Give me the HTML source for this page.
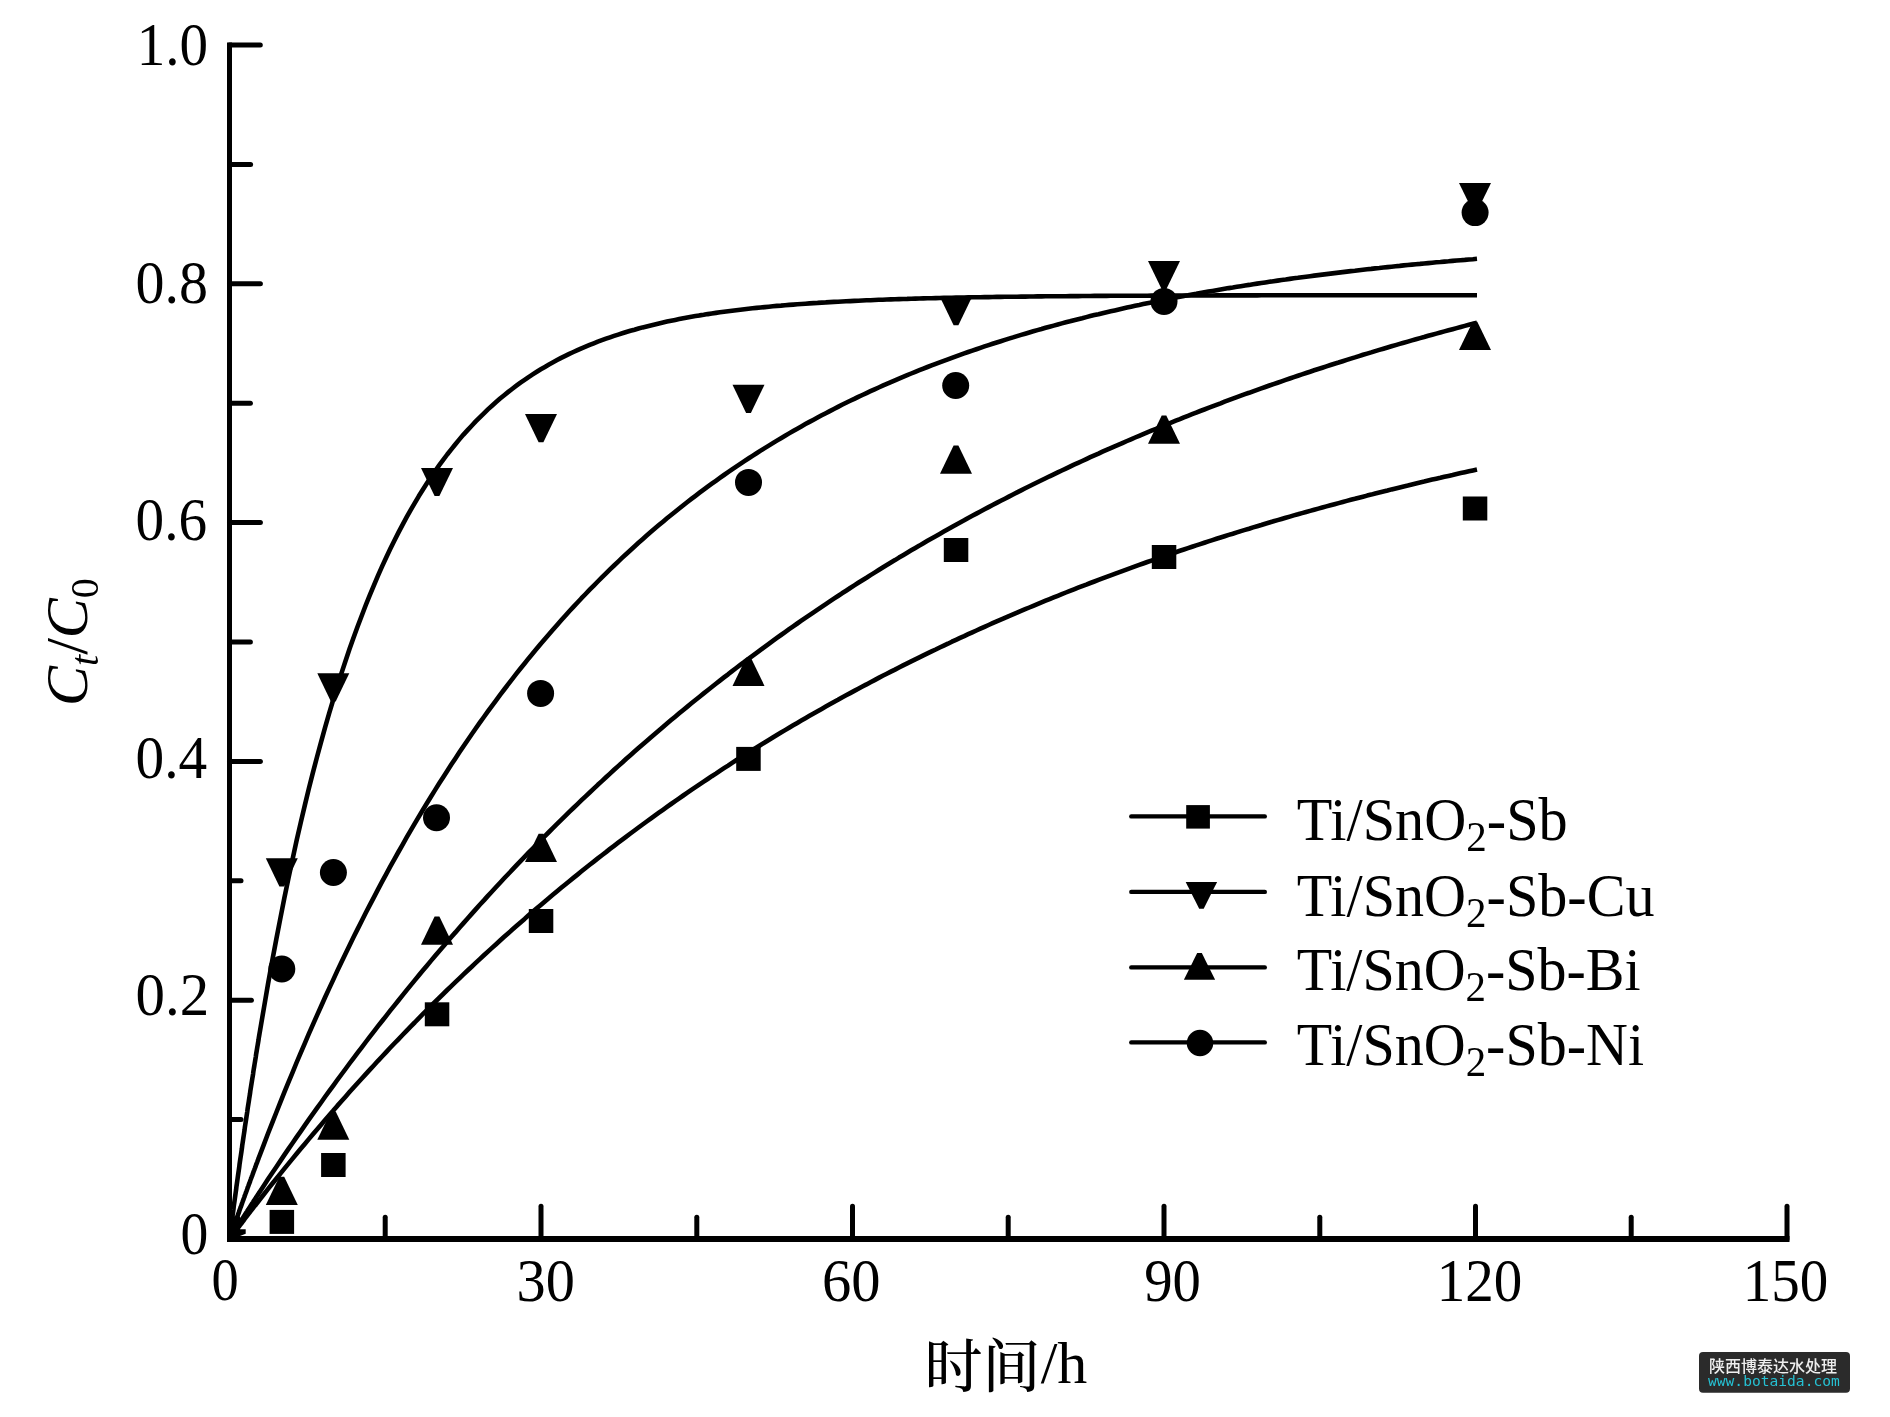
<!DOCTYPE html>
<html><head><meta charset="utf-8"><style>
html,body{margin:0;padding:0;background:#fff;}
body{width:1890px;height:1417px;overflow:hidden;}
svg{display:block;will-change:transform;}
.t{font-family:"Liberation Serif","Times New Roman",serif;fill:#000;}
</style></head><body>
<svg width="1890" height="1417" viewBox="0 0 1890 1417">
<rect width="1890" height="1417" fill="#fff"/>
<g fill="none" stroke="#000" stroke-width="4.6" stroke-linejoin="round">
<path d="M229.5,1239.0 L229.9,1236.0 L230.3,1233.1 L230.7,1230.1 L231.0,1227.2 L231.4,1224.2 L231.8,1221.3 L232.2,1218.4 L232.6,1215.5 L233.0,1212.6 L233.4,1209.7 L233.7,1206.8 L234.1,1203.9 L234.5,1201.1 L234.9,1198.2 L235.3,1195.4 L235.7,1192.5 L236.1,1189.7 L236.4,1186.9 L236.8,1184.1 L237.2,1181.3 L237.6,1178.5 L238.0,1175.7 L238.4,1172.9 L238.8,1170.2 L239.2,1167.4 L239.5,1164.7 L239.9,1161.9 L240.3,1159.2 L240.7,1156.5 L241.1,1153.8 L241.5,1151.1 L241.9,1148.4 L242.2,1145.7 L242.6,1143.0 L243.0,1140.3 L243.4,1137.7 L243.8,1135.0 L244.2,1132.4 L244.6,1129.7 L244.9,1127.1 L245.3,1124.5 L245.7,1121.9 L246.1,1119.3 L246.5,1116.7 L246.9,1114.1 L247.3,1111.5 L247.6,1108.9 L248.0,1106.4 L248.4,1103.8 L248.8,1101.3 L249.2,1098.7 L249.6,1096.2 L250.0,1093.7 L250.3,1091.2 L250.7,1088.7 L251.1,1086.2 L251.5,1083.7 L251.9,1081.2 L252.3,1078.7 L252.7,1076.3 L253.1,1073.8 L253.4,1071.3 L253.8,1068.9 L254.2,1066.5 L254.6,1064.0 L255.0,1061.6 L255.4,1059.2 L255.8,1056.8 L256.1,1054.4 L256.5,1052.0 L256.9,1049.6 L257.3,1047.2 L257.7,1044.9 L258.1,1042.5 L258.5,1040.2 L258.8,1037.8 L259.2,1035.5 L259.6,1033.1 L260.0,1030.8 L264.1,1006.8 L268.1,983.5 L272.2,961.0 L276.3,939.2 L280.4,918.1 L284.4,897.7 L288.5,878.0 L292.6,859.0 L296.6,840.5 L300.7,822.7 L304.8,805.4 L308.8,788.7 L312.9,772.6 L317.0,757.0 L321.1,741.9 L325.1,727.3 L329.2,713.1 L333.3,699.5 L337.3,686.2 L341.4,673.4 L345.5,661.1 L349.5,649.1 L353.6,637.5 L357.7,626.3 L361.8,615.5 L365.8,605.0 L369.9,594.9 L374.0,585.1 L378.0,575.6 L382.1,566.4 L386.2,557.5 L390.2,549.0 L394.3,540.7 L398.4,532.6 L402.5,524.9 L406.5,517.4 L410.6,510.1 L414.7,503.1 L418.7,496.3 L422.8,489.7 L426.9,483.3 L430.9,477.2 L435.0,471.2 L439.1,465.4 L443.2,459.9 L447.2,454.5 L451.3,449.3 L455.4,444.2 L459.4,439.4 L463.5,434.6 L467.6,430.1 L471.7,425.7 L475.7,421.4 L479.8,417.3 L483.9,413.3 L487.9,409.4 L492.0,405.7 L496.1,402.1 L500.1,398.6 L504.2,395.2 L508.3,391.9 L512.4,388.7 L516.4,385.7 L520.5,382.7 L524.6,379.9 L528.6,377.1 L532.7,374.4 L536.8,371.8 L540.8,369.3 L544.9,366.9 L549.0,364.5 L553.1,362.3 L557.1,360.1 L561.2,357.9 L565.3,355.9 L569.3,353.9 L573.4,352.0 L577.5,350.1 L581.5,348.3 L585.6,346.6 L589.7,344.9 L593.8,343.3 L597.8,341.7 L601.9,340.2 L606.0,338.7 L610.0,337.3 L614.1,335.9 L618.2,334.6 L622.3,333.3 L626.3,332.0 L630.4,330.8 L634.5,329.7 L638.5,328.5 L642.6,327.4 L646.7,326.4 L650.7,325.4 L654.8,324.4 L658.9,323.4 L663.0,322.5 L667.0,321.6 L671.1,320.7 L675.2,319.9 L679.2,319.1 L683.3,318.3 L687.4,317.5 L691.4,316.8 L695.5,316.1 L699.6,315.4 L703.7,314.8 L707.7,314.1 L711.8,313.5 L715.9,312.9 L719.9,312.3 L724.0,311.7 L728.1,311.2 L732.1,310.7 L736.2,310.2 L740.3,309.7 L744.4,309.2 L748.4,308.7 L752.5,308.3 L756.6,307.9 L760.6,307.5 L764.7,307.1 L768.8,306.7 L772.8,306.3 L776.9,305.9 L781.0,305.6 L785.1,305.2 L789.1,304.9 L793.2,304.6 L797.3,304.3 L801.3,304.0 L805.4,303.7 L809.5,303.4 L813.6,303.1 L817.6,302.9 L821.7,302.6 L825.8,302.4 L829.8,302.1 L833.9,301.9 L838.0,301.7 L842.0,301.5 L846.1,301.3 L850.2,301.1 L854.3,300.9 L858.3,300.7 L862.4,300.5 L866.5,300.3 L870.5,300.2 L874.6,300.0 L878.7,299.8 L882.7,299.7 L886.8,299.5 L890.9,299.4 L895.0,299.3 L899.0,299.1 L903.1,299.0 L907.2,298.9 L911.2,298.7 L915.3,298.6 L919.4,298.5 L923.4,298.4 L927.5,298.3 L931.6,298.2 L935.7,298.1 L939.7,298.0 L943.8,297.9 L947.9,297.8 L951.9,297.7 L956.0,297.6 L960.1,297.6 L964.2,297.5 L968.2,297.4 L972.3,297.3 L976.4,297.3 L980.4,297.2 L984.5,297.1 L988.6,297.1 L992.6,297.0 L996.7,296.9 L1000.8,296.9 L1004.9,296.8 L1008.9,296.8 L1013.0,296.7 L1017.1,296.7 L1021.1,296.6 L1025.2,296.6 L1029.3,296.5 L1033.3,296.5 L1037.4,296.4 L1041.5,296.4 L1045.6,296.3 L1049.6,296.3 L1053.7,296.3 L1057.8,296.2 L1061.8,296.2 L1065.9,296.2 L1070.0,296.1 L1074.0,296.1 L1078.1,296.1 L1082.2,296.0 L1086.3,296.0 L1090.3,296.0 L1094.4,295.9 L1098.5,295.9 L1102.5,295.9 L1106.6,295.9 L1110.7,295.8 L1114.7,295.8 L1118.8,295.8 L1122.9,295.8 L1127.0,295.8 L1131.0,295.7 L1135.1,295.7 L1139.2,295.7 L1143.2,295.7 L1147.3,295.7 L1151.4,295.6 L1155.5,295.6 L1159.5,295.6 L1163.6,295.6 L1167.7,295.6 L1171.7,295.6 L1175.8,295.6 L1179.9,295.5 L1183.9,295.5 L1188.0,295.5 L1192.1,295.5 L1196.2,295.5 L1200.2,295.5 L1204.3,295.5 L1208.4,295.5 L1212.4,295.5 L1216.5,295.4 L1220.6,295.4 L1224.6,295.4 L1228.7,295.4 L1232.8,295.4 L1236.9,295.4 L1240.9,295.4 L1245.0,295.4 L1249.1,295.4 L1253.1,295.4 L1257.2,295.4 L1261.3,295.3 L1265.3,295.3 L1269.4,295.3 L1273.5,295.3 L1277.6,295.3 L1281.6,295.3 L1285.7,295.3 L1289.8,295.3 L1293.8,295.3 L1297.9,295.3 L1302.0,295.3 L1306.1,295.3 L1310.1,295.3 L1314.2,295.3 L1318.3,295.3 L1322.3,295.3 L1326.4,295.3 L1330.5,295.3 L1334.5,295.3 L1338.6,295.3 L1342.7,295.2 L1346.8,295.2 L1350.8,295.2 L1354.9,295.2 L1359.0,295.2 L1363.0,295.2 L1367.1,295.2 L1371.2,295.2 L1375.2,295.2 L1379.3,295.2 L1383.4,295.2 L1387.5,295.2 L1391.5,295.2 L1395.6,295.2 L1399.7,295.2 L1403.7,295.2 L1407.8,295.2 L1411.9,295.2 L1415.9,295.2 L1420.0,295.2 L1424.1,295.2 L1428.2,295.2 L1432.2,295.2 L1436.3,295.2 L1440.4,295.2 L1444.4,295.2 L1448.5,295.2 L1452.6,295.2 L1456.6,295.2 L1460.7,295.2 L1464.8,295.2 L1468.9,295.2 L1472.9,295.2 L1477.0,295.2"/>
<path d="M229.5,1239.0 L229.9,1237.9 L230.3,1236.8 L230.7,1235.7 L231.0,1234.5 L231.4,1233.4 L231.8,1232.3 L232.2,1231.2 L232.6,1230.1 L233.0,1229.0 L233.4,1227.9 L233.7,1226.8 L234.1,1225.7 L234.5,1224.6 L234.9,1223.5 L235.3,1222.4 L235.7,1221.3 L236.1,1220.2 L236.4,1219.1 L236.8,1218.0 L237.2,1216.9 L237.6,1215.8 L238.0,1214.7 L238.4,1213.7 L238.8,1212.6 L239.2,1211.5 L239.5,1210.4 L239.9,1209.3 L240.3,1208.2 L240.7,1207.2 L241.1,1206.1 L241.5,1205.0 L241.9,1203.9 L242.2,1202.8 L242.6,1201.8 L243.0,1200.7 L243.4,1199.6 L243.8,1198.5 L244.2,1197.5 L244.6,1196.4 L244.9,1195.3 L245.3,1194.3 L245.7,1193.2 L246.1,1192.1 L246.5,1191.1 L246.9,1190.0 L247.3,1189.0 L247.6,1187.9 L248.0,1186.8 L248.4,1185.8 L248.8,1184.7 L249.2,1183.7 L249.6,1182.6 L250.0,1181.6 L250.3,1180.5 L250.7,1179.5 L251.1,1178.4 L251.5,1177.4 L251.9,1176.3 L252.3,1175.3 L252.7,1174.2 L253.1,1173.2 L253.4,1172.1 L253.8,1171.1 L254.2,1170.1 L254.6,1169.0 L255.0,1168.0 L255.4,1166.9 L255.8,1165.9 L256.1,1164.9 L256.5,1163.8 L256.9,1162.8 L257.3,1161.8 L257.7,1160.7 L258.1,1159.7 L258.5,1158.7 L258.8,1157.7 L259.2,1156.6 L259.6,1155.6 L260.0,1154.6 L264.1,1143.9 L268.1,1133.3 L272.2,1122.8 L276.3,1112.5 L280.4,1102.2 L284.4,1092.1 L288.5,1082.1 L292.6,1072.3 L296.6,1062.5 L300.7,1052.8 L304.8,1043.3 L308.8,1033.9 L312.9,1024.6 L317.0,1015.4 L321.1,1006.3 L325.1,997.3 L329.2,988.4 L333.3,979.6 L337.3,970.9 L341.4,962.3 L345.5,953.8 L349.5,945.4 L353.6,937.1 L357.7,928.9 L361.8,920.8 L365.8,912.8 L369.9,904.9 L374.0,897.1 L378.0,889.4 L382.1,881.7 L386.2,874.2 L390.2,866.7 L394.3,859.3 L398.4,852.0 L402.5,844.8 L406.5,837.7 L410.6,830.7 L414.7,823.7 L418.7,816.8 L422.8,810.0 L426.9,803.3 L430.9,796.7 L435.0,790.1 L439.1,783.6 L443.2,777.2 L447.2,770.9 L451.3,764.6 L455.4,758.4 L459.4,752.3 L463.5,746.2 L467.6,740.2 L471.7,734.3 L475.7,728.5 L479.8,722.7 L483.9,717.0 L487.9,711.4 L492.0,705.8 L496.1,700.3 L500.1,694.8 L504.2,689.5 L508.3,684.1 L512.4,678.9 L516.4,673.7 L520.5,668.5 L524.6,663.5 L528.6,658.4 L532.7,653.5 L536.8,648.6 L540.8,643.7 L544.9,638.9 L549.0,634.2 L553.1,629.5 L557.1,624.9 L561.2,620.3 L565.3,615.8 L569.3,611.3 L573.4,606.9 L577.5,602.5 L581.5,598.2 L585.6,594.0 L589.7,589.7 L593.8,585.6 L597.8,581.5 L601.9,577.4 L606.0,573.4 L610.0,569.4 L614.1,565.5 L618.2,561.6 L622.3,557.7 L626.3,554.0 L630.4,550.2 L634.5,546.5 L638.5,542.8 L642.6,539.2 L646.7,535.6 L650.7,532.1 L654.8,528.6 L658.9,525.1 L663.0,521.7 L667.0,518.3 L671.1,515.0 L675.2,511.7 L679.2,508.5 L683.3,505.2 L687.4,502.0 L691.4,498.9 L695.5,495.8 L699.6,492.7 L703.7,489.7 L707.7,486.7 L711.8,483.7 L715.9,480.8 L719.9,477.9 L724.0,475.0 L728.1,472.2 L732.1,469.4 L736.2,466.6 L740.3,463.8 L744.4,461.1 L748.4,458.5 L752.5,455.8 L756.6,453.2 L760.6,450.6 L764.7,448.1 L768.8,445.6 L772.8,443.1 L776.9,440.6 L781.0,438.2 L785.1,435.8 L789.1,433.4 L793.2,431.0 L797.3,428.7 L801.3,426.4 L805.4,424.1 L809.5,421.9 L813.6,419.7 L817.6,417.5 L821.7,415.3 L825.8,413.2 L829.8,411.1 L833.9,409.0 L838.0,406.9 L842.0,404.8 L846.1,402.8 L850.2,400.8 L854.3,398.9 L858.3,396.9 L862.4,395.0 L866.5,393.1 L870.5,391.2 L874.6,389.3 L878.7,387.5 L882.7,385.7 L886.8,383.9 L890.9,382.1 L895.0,380.3 L899.0,378.6 L903.1,376.9 L907.2,375.2 L911.2,373.5 L915.3,371.8 L919.4,370.2 L923.4,368.6 L927.5,367.0 L931.6,365.4 L935.7,363.8 L939.7,362.3 L943.8,360.8 L947.9,359.3 L951.9,357.8 L956.0,356.3 L960.1,354.8 L964.2,353.4 L968.2,352.0 L972.3,350.6 L976.4,349.2 L980.4,347.8 L984.5,346.4 L988.6,345.1 L992.6,343.8 L996.7,342.5 L1000.8,341.2 L1004.9,339.9 L1008.9,338.6 L1013.0,337.4 L1017.1,336.1 L1021.1,334.9 L1025.2,333.7 L1029.3,332.5 L1033.3,331.3 L1037.4,330.1 L1041.5,329.0 L1045.6,327.8 L1049.6,326.7 L1053.7,325.6 L1057.8,324.5 L1061.8,323.4 L1065.9,322.3 L1070.0,321.3 L1074.0,320.2 L1078.1,319.2 L1082.2,318.2 L1086.3,317.1 L1090.3,316.1 L1094.4,315.1 L1098.5,314.2 L1102.5,313.2 L1106.6,312.2 L1110.7,311.3 L1114.7,310.4 L1118.8,309.4 L1122.9,308.5 L1127.0,307.6 L1131.0,306.7 L1135.1,305.8 L1139.2,305.0 L1143.2,304.1 L1147.3,303.2 L1151.4,302.4 L1155.5,301.6 L1159.5,300.8 L1163.6,299.9 L1167.7,299.1 L1171.7,298.3 L1175.8,297.6 L1179.9,296.8 L1183.9,296.0 L1188.0,295.3 L1192.1,294.5 L1196.2,293.8 L1200.2,293.0 L1204.3,292.3 L1208.4,291.6 L1212.4,290.9 L1216.5,290.2 L1220.6,289.5 L1224.6,288.8 L1228.7,288.1 L1232.8,287.5 L1236.9,286.8 L1240.9,286.2 L1245.0,285.5 L1249.1,284.9 L1253.1,284.2 L1257.2,283.6 L1261.3,283.0 L1265.3,282.4 L1269.4,281.8 L1273.5,281.2 L1277.6,280.6 L1281.6,280.0 L1285.7,279.5 L1289.8,278.9 L1293.8,278.3 L1297.9,277.8 L1302.0,277.2 L1306.1,276.7 L1310.1,276.2 L1314.2,275.6 L1318.3,275.1 L1322.3,274.6 L1326.4,274.1 L1330.5,273.6 L1334.5,273.1 L1338.6,272.6 L1342.7,272.1 L1346.8,271.6 L1350.8,271.1 L1354.9,270.7 L1359.0,270.2 L1363.0,269.8 L1367.1,269.3 L1371.2,268.9 L1375.2,268.4 L1379.3,268.0 L1383.4,267.5 L1387.5,267.1 L1391.5,266.7 L1395.6,266.3 L1399.7,265.9 L1403.7,265.4 L1407.8,265.0 L1411.9,264.6 L1415.9,264.2 L1420.0,263.9 L1424.1,263.5 L1428.2,263.1 L1432.2,262.7 L1436.3,262.3 L1440.4,262.0 L1444.4,261.6 L1448.5,261.3 L1452.6,260.9 L1456.6,260.5 L1460.7,260.2 L1464.8,259.9 L1468.9,259.5 L1472.9,259.2 L1477.0,258.8"/>
<path d="M229.5,1239.0 L229.9,1238.4 L230.3,1237.8 L230.7,1237.2 L231.0,1236.5 L231.4,1235.9 L231.8,1235.3 L232.2,1234.7 L232.6,1234.1 L233.0,1233.5 L233.4,1232.9 L233.7,1232.3 L234.1,1231.6 L234.5,1231.0 L234.9,1230.4 L235.3,1229.8 L235.7,1229.2 L236.1,1228.6 L236.4,1228.0 L236.8,1227.4 L237.2,1226.8 L237.6,1226.2 L238.0,1225.6 L238.4,1224.9 L238.8,1224.3 L239.2,1223.7 L239.5,1223.1 L239.9,1222.5 L240.3,1221.9 L240.7,1221.3 L241.1,1220.7 L241.5,1220.1 L241.9,1219.5 L242.2,1218.9 L242.6,1218.3 L243.0,1217.7 L243.4,1217.1 L243.8,1216.5 L244.2,1215.9 L244.6,1215.3 L244.9,1214.7 L245.3,1214.1 L245.7,1213.5 L246.1,1212.9 L246.5,1212.3 L246.9,1211.7 L247.3,1211.1 L247.6,1210.5 L248.0,1209.9 L248.4,1209.3 L248.8,1208.7 L249.2,1208.1 L249.6,1207.5 L250.0,1206.9 L250.3,1206.3 L250.7,1205.7 L251.1,1205.1 L251.5,1204.5 L251.9,1203.9 L252.3,1203.3 L252.7,1202.7 L253.1,1202.1 L253.4,1201.5 L253.8,1200.9 L254.2,1200.3 L254.6,1199.7 L255.0,1199.2 L255.4,1198.6 L255.8,1198.0 L256.1,1197.4 L256.5,1196.8 L256.9,1196.2 L257.3,1195.6 L257.7,1195.0 L258.1,1194.4 L258.5,1193.8 L258.8,1193.2 L259.2,1192.7 L259.6,1192.1 L260.0,1191.5 L264.1,1185.3 L268.1,1179.1 L272.2,1173.0 L276.3,1167.0 L280.4,1160.9 L284.4,1154.9 L288.5,1148.9 L292.6,1143.0 L296.6,1137.1 L300.7,1131.3 L304.8,1125.4 L308.8,1119.6 L312.9,1113.9 L317.0,1108.1 L321.1,1102.5 L325.1,1096.8 L329.2,1091.2 L333.3,1085.6 L337.3,1080.0 L341.4,1074.5 L345.5,1069.0 L349.5,1063.5 L353.6,1058.1 L357.7,1052.7 L361.8,1047.4 L365.8,1042.0 L369.9,1036.7 L374.0,1031.4 L378.0,1026.2 L382.1,1021.0 L386.2,1015.8 L390.2,1010.7 L394.3,1005.6 L398.4,1000.5 L402.5,995.4 L406.5,990.4 L410.6,985.4 L414.7,980.4 L418.7,975.5 L422.8,970.6 L426.9,965.7 L430.9,960.9 L435.0,956.0 L439.1,951.2 L443.2,946.5 L447.2,941.7 L451.3,937.0 L455.4,932.4 L459.4,927.7 L463.5,923.1 L467.6,918.5 L471.7,913.9 L475.7,909.4 L479.8,904.8 L483.9,900.4 L487.9,895.9 L492.0,891.5 L496.1,887.0 L500.1,882.7 L504.2,878.3 L508.3,874.0 L512.4,869.7 L516.4,865.4 L520.5,861.1 L524.6,856.9 L528.6,852.7 L532.7,848.5 L536.8,844.3 L540.8,840.2 L544.9,836.1 L549.0,832.0 L553.1,827.9 L557.1,823.9 L561.2,819.9 L565.3,815.9 L569.3,811.9 L573.4,808.0 L577.5,804.1 L581.5,800.2 L585.6,796.3 L589.7,792.5 L593.8,788.6 L597.8,784.8 L601.9,781.1 L606.0,777.3 L610.0,773.6 L614.1,769.8 L618.2,766.1 L622.3,762.5 L626.3,758.8 L630.4,755.2 L634.5,751.6 L638.5,748.0 L642.6,744.4 L646.7,740.9 L650.7,737.4 L654.8,733.9 L658.9,730.4 L663.0,726.9 L667.0,723.5 L671.1,720.1 L675.2,716.7 L679.2,713.3 L683.3,709.9 L687.4,706.6 L691.4,703.3 L695.5,700.0 L699.6,696.7 L703.7,693.4 L707.7,690.2 L711.8,687.0 L715.9,683.8 L719.9,680.6 L724.0,677.4 L728.1,674.3 L732.1,671.1 L736.2,668.0 L740.3,664.9 L744.4,661.9 L748.4,658.8 L752.5,655.8 L756.6,652.8 L760.6,649.8 L764.7,646.8 L768.8,643.8 L772.8,640.9 L776.9,637.9 L781.0,635.0 L785.1,632.1 L789.1,629.2 L793.2,626.4 L797.3,623.5 L801.3,620.7 L805.4,617.9 L809.5,615.1 L813.6,612.3 L817.6,609.6 L821.7,606.8 L825.8,604.1 L829.8,601.4 L833.9,598.7 L838.0,596.0 L842.0,593.3 L846.1,590.7 L850.2,588.0 L854.3,585.4 L858.3,582.8 L862.4,580.2 L866.5,577.7 L870.5,575.1 L874.6,572.6 L878.7,570.0 L882.7,567.5 L886.8,565.0 L890.9,562.5 L895.0,560.1 L899.0,557.6 L903.1,555.2 L907.2,552.7 L911.2,550.3 L915.3,547.9 L919.4,545.6 L923.4,543.2 L927.5,540.8 L931.6,538.5 L935.7,536.2 L939.7,533.9 L943.8,531.6 L947.9,529.3 L951.9,527.0 L956.0,524.7 L960.1,522.5 L964.2,520.3 L968.2,518.0 L972.3,515.8 L976.4,513.6 L980.4,511.5 L984.5,509.3 L988.6,507.1 L992.6,505.0 L996.7,502.9 L1000.8,500.8 L1004.9,498.7 L1008.9,496.6 L1013.0,494.5 L1017.1,492.4 L1021.1,490.4 L1025.2,488.3 L1029.3,486.3 L1033.3,484.3 L1037.4,482.3 L1041.5,480.3 L1045.6,478.3 L1049.6,476.3 L1053.7,474.4 L1057.8,472.4 L1061.8,470.5 L1065.9,468.6 L1070.0,466.6 L1074.0,464.7 L1078.1,462.9 L1082.2,461.0 L1086.3,459.1 L1090.3,457.2 L1094.4,455.4 L1098.5,453.6 L1102.5,451.7 L1106.6,449.9 L1110.7,448.1 L1114.7,446.3 L1118.8,444.6 L1122.9,442.8 L1127.0,441.0 L1131.0,439.3 L1135.1,437.5 L1139.2,435.8 L1143.2,434.1 L1147.3,432.4 L1151.4,430.7 L1155.5,429.0 L1159.5,427.3 L1163.6,425.6 L1167.7,424.0 L1171.7,422.3 L1175.8,420.7 L1179.9,419.1 L1183.9,417.4 L1188.0,415.8 L1192.1,414.2 L1196.2,412.6 L1200.2,411.0 L1204.3,409.5 L1208.4,407.9 L1212.4,406.4 L1216.5,404.8 L1220.6,403.3 L1224.6,401.7 L1228.7,400.2 L1232.8,398.7 L1236.9,397.2 L1240.9,395.7 L1245.0,394.2 L1249.1,392.8 L1253.1,391.3 L1257.2,389.8 L1261.3,388.4 L1265.3,387.0 L1269.4,385.5 L1273.5,384.1 L1277.6,382.7 L1281.6,381.3 L1285.7,379.9 L1289.8,378.5 L1293.8,377.1 L1297.9,375.7 L1302.0,374.4 L1306.1,373.0 L1310.1,371.7 L1314.2,370.3 L1318.3,369.0 L1322.3,367.7 L1326.4,366.4 L1330.5,365.0 L1334.5,363.7 L1338.6,362.5 L1342.7,361.2 L1346.8,359.9 L1350.8,358.6 L1354.9,357.4 L1359.0,356.1 L1363.0,354.8 L1367.1,353.6 L1371.2,352.4 L1375.2,351.1 L1379.3,349.9 L1383.4,348.7 L1387.5,347.5 L1391.5,346.3 L1395.6,345.1 L1399.7,343.9 L1403.7,342.8 L1407.8,341.6 L1411.9,340.4 L1415.9,339.3 L1420.0,338.1 L1424.1,337.0 L1428.2,335.8 L1432.2,334.7 L1436.3,333.6 L1440.4,332.5 L1444.4,331.4 L1448.5,330.3 L1452.6,329.2 L1456.6,328.1 L1460.7,327.0 L1464.8,325.9 L1468.9,324.8 L1472.9,323.8 L1477.0,322.7"/>
<path d="M229.5,1239.0 L229.9,1238.5 L230.3,1238.0 L230.7,1237.5 L231.0,1236.9 L231.4,1236.4 L231.8,1235.9 L232.2,1235.4 L232.6,1234.9 L233.0,1234.4 L233.4,1233.9 L233.7,1233.4 L234.1,1232.8 L234.5,1232.3 L234.9,1231.8 L235.3,1231.3 L235.7,1230.8 L236.1,1230.3 L236.4,1229.8 L236.8,1229.3 L237.2,1228.8 L237.6,1228.3 L238.0,1227.7 L238.4,1227.2 L238.8,1226.7 L239.2,1226.2 L239.5,1225.7 L239.9,1225.2 L240.3,1224.7 L240.7,1224.2 L241.1,1223.7 L241.5,1223.2 L241.9,1222.7 L242.2,1222.2 L242.6,1221.7 L243.0,1221.2 L243.4,1220.7 L243.8,1220.2 L244.2,1219.6 L244.6,1219.1 L244.9,1218.6 L245.3,1218.1 L245.7,1217.6 L246.1,1217.1 L246.5,1216.6 L246.9,1216.1 L247.3,1215.6 L247.6,1215.1 L248.0,1214.6 L248.4,1214.1 L248.8,1213.6 L249.2,1213.1 L249.6,1212.6 L250.0,1212.1 L250.3,1211.6 L250.7,1211.1 L251.1,1210.6 L251.5,1210.1 L251.9,1209.6 L252.3,1209.1 L252.7,1208.6 L253.1,1208.1 L253.4,1207.6 L253.8,1207.1 L254.2,1206.6 L254.6,1206.1 L255.0,1205.6 L255.4,1205.2 L255.8,1204.7 L256.1,1204.2 L256.5,1203.7 L256.9,1203.2 L257.3,1202.7 L257.7,1202.2 L258.1,1201.7 L258.5,1201.2 L258.8,1200.7 L259.2,1200.2 L259.6,1199.7 L260.0,1199.2 L264.1,1194.0 L268.1,1188.9 L272.2,1183.8 L276.3,1178.7 L280.4,1173.6 L284.4,1168.6 L288.5,1163.6 L292.6,1158.6 L296.6,1153.7 L300.7,1148.8 L304.8,1143.9 L308.8,1139.1 L312.9,1134.2 L317.0,1129.5 L321.1,1124.7 L325.1,1119.9 L329.2,1115.2 L333.3,1110.6 L337.3,1105.9 L341.4,1101.3 L345.5,1096.7 L349.5,1092.1 L353.6,1087.5 L357.7,1083.0 L361.8,1078.5 L365.8,1074.1 L369.9,1069.6 L374.0,1065.2 L378.0,1060.8 L382.1,1056.5 L386.2,1052.1 L390.2,1047.8 L394.3,1043.5 L398.4,1039.3 L402.5,1035.0 L406.5,1030.8 L410.6,1026.6 L414.7,1022.5 L418.7,1018.3 L422.8,1014.2 L426.9,1010.1 L430.9,1006.0 L435.0,1002.0 L439.1,998.0 L443.2,994.0 L447.2,990.0 L451.3,986.1 L455.4,982.2 L459.4,978.3 L463.5,974.4 L467.6,970.5 L471.7,966.7 L475.7,962.9 L479.8,959.1 L483.9,955.3 L487.9,951.6 L492.0,947.9 L496.1,944.2 L500.1,940.5 L504.2,936.8 L508.3,933.2 L512.4,929.6 L516.4,926.0 L520.5,922.4 L524.6,918.9 L528.6,915.3 L532.7,911.8 L536.8,908.3 L540.8,904.9 L544.9,901.4 L549.0,898.0 L553.1,894.6 L557.1,891.2 L561.2,887.8 L565.3,884.5 L569.3,881.2 L573.4,877.9 L577.5,874.6 L581.5,871.3 L585.6,868.0 L589.7,864.8 L593.8,861.6 L597.8,858.4 L601.9,855.2 L606.0,852.1 L610.0,848.9 L614.1,845.8 L618.2,842.7 L622.3,839.6 L626.3,836.6 L630.4,833.5 L634.5,830.5 L638.5,827.5 L642.6,824.5 L646.7,821.5 L650.7,818.6 L654.8,815.6 L658.9,812.7 L663.0,809.8 L667.0,806.9 L671.1,804.0 L675.2,801.2 L679.2,798.4 L683.3,795.5 L687.4,792.7 L691.4,789.9 L695.5,787.2 L699.6,784.4 L703.7,781.7 L707.7,779.0 L711.8,776.2 L715.9,773.6 L719.9,770.9 L724.0,768.2 L728.1,765.6 L732.1,762.9 L736.2,760.3 L740.3,757.7 L744.4,755.2 L748.4,752.6 L752.5,750.0 L756.6,747.5 L760.6,745.0 L764.7,742.5 L768.8,740.0 L772.8,737.5 L776.9,735.0 L781.0,732.6 L785.1,730.1 L789.1,727.7 L793.2,725.3 L797.3,722.9 L801.3,720.6 L805.4,718.2 L809.5,715.8 L813.6,713.5 L817.6,711.2 L821.7,708.9 L825.8,706.6 L829.8,704.3 L833.9,702.0 L838.0,699.8 L842.0,697.5 L846.1,695.3 L850.2,693.1 L854.3,690.9 L858.3,688.7 L862.4,686.5 L866.5,684.4 L870.5,682.2 L874.6,680.1 L878.7,677.9 L882.7,675.8 L886.8,673.7 L890.9,671.6 L895.0,669.6 L899.0,667.5 L903.1,665.4 L907.2,663.4 L911.2,661.4 L915.3,659.4 L919.4,657.4 L923.4,655.4 L927.5,653.4 L931.6,651.4 L935.7,649.5 L939.7,647.5 L943.8,645.6 L947.9,643.7 L951.9,641.7 L956.0,639.8 L960.1,637.9 L964.2,636.1 L968.2,634.2 L972.3,632.3 L976.4,630.5 L980.4,628.7 L984.5,626.8 L988.6,625.0 L992.6,623.2 L996.7,621.4 L1000.8,619.7 L1004.9,617.9 L1008.9,616.1 L1013.0,614.4 L1017.1,612.6 L1021.1,610.9 L1025.2,609.2 L1029.3,607.5 L1033.3,605.8 L1037.4,604.1 L1041.5,602.4 L1045.6,600.7 L1049.6,599.1 L1053.7,597.4 L1057.8,595.8 L1061.8,594.2 L1065.9,592.5 L1070.0,590.9 L1074.0,589.3 L1078.1,587.7 L1082.2,586.1 L1086.3,584.6 L1090.3,583.0 L1094.4,581.5 L1098.5,579.9 L1102.5,578.4 L1106.6,576.8 L1110.7,575.3 L1114.7,573.8 L1118.8,572.3 L1122.9,570.8 L1127.0,569.3 L1131.0,567.9 L1135.1,566.4 L1139.2,564.9 L1143.2,563.5 L1147.3,562.0 L1151.4,560.6 L1155.5,559.2 L1159.5,557.8 L1163.6,556.4 L1167.7,555.0 L1171.7,553.6 L1175.8,552.2 L1179.9,550.8 L1183.9,549.5 L1188.0,548.1 L1192.1,546.7 L1196.2,545.4 L1200.2,544.1 L1204.3,542.7 L1208.4,541.4 L1212.4,540.1 L1216.5,538.8 L1220.6,537.5 L1224.6,536.2 L1228.7,534.9 L1232.8,533.7 L1236.9,532.4 L1240.9,531.1 L1245.0,529.9 L1249.1,528.7 L1253.1,527.4 L1257.2,526.2 L1261.3,525.0 L1265.3,523.7 L1269.4,522.5 L1273.5,521.3 L1277.6,520.1 L1281.6,519.0 L1285.7,517.8 L1289.8,516.6 L1293.8,515.4 L1297.9,514.3 L1302.0,513.1 L1306.1,512.0 L1310.1,510.9 L1314.2,509.7 L1318.3,508.6 L1322.3,507.5 L1326.4,506.4 L1330.5,505.3 L1334.5,504.2 L1338.6,503.1 L1342.7,502.0 L1346.8,500.9 L1350.8,499.8 L1354.9,498.8 L1359.0,497.7 L1363.0,496.7 L1367.1,495.6 L1371.2,494.6 L1375.2,493.5 L1379.3,492.5 L1383.4,491.5 L1387.5,490.5 L1391.5,489.4 L1395.6,488.4 L1399.7,487.4 L1403.7,486.4 L1407.8,485.5 L1411.9,484.5 L1415.9,483.5 L1420.0,482.5 L1424.1,481.6 L1428.2,480.6 L1432.2,479.6 L1436.3,478.7 L1440.4,477.8 L1444.4,476.8 L1448.5,475.9 L1452.6,475.0 L1456.6,474.0 L1460.7,473.1 L1464.8,472.2 L1468.9,471.3 L1472.9,470.4 L1477.0,469.5"/>
</g>
<g fill="#000">
<rect x="269.6" y="1209.9" width="24.5" height="24"/>
<path d="M265.8,1204.9 L297.8,1204.9 L284.2,1176.7 L279.4,1176.7Z"/>
<path d="M265.8,858.2 L297.8,858.2 L284.2,886.4 L279.4,886.4Z"/>
<circle cx="281.8" cy="969.0" r="13.5"/>
<rect x="321.1" y="1153.0" width="24.5" height="24"/>
<path d="M317.3,1139.7 L349.3,1139.7 L335.7,1111.5 L330.9,1111.5Z"/>
<path d="M317.3,673.2 L349.3,673.2 L335.7,701.4 L330.9,701.4Z"/>
<circle cx="333.4" cy="872.5" r="13.5"/>
<rect x="424.8" y="1002.3" width="24.5" height="24"/>
<path d="M421.0,944.7 L453.0,944.7 L439.4,916.5 L434.6,916.5Z"/>
<path d="M421.0,467.9 L453.0,467.9 L439.4,496.1 L434.6,496.1Z"/>
<circle cx="436.5" cy="817.7" r="13.5"/>
<rect x="528.8" y="909.0" width="24.5" height="24"/>
<path d="M525.0,862.0 L557.0,862.0 L543.4,833.8 L538.6,833.8Z"/>
<path d="M525.0,414.1 L557.0,414.1 L543.4,442.3 L538.6,442.3Z"/>
<circle cx="540.6" cy="693.4" r="13.5"/>
<rect x="736.2" y="746.9" width="24.5" height="24"/>
<path d="M732.5,685.9 L764.5,685.9 L750.9,657.7 L746.1,657.7Z"/>
<path d="M732.5,384.8 L764.5,384.8 L750.9,413.0 L746.1,413.0Z"/>
<circle cx="748.5" cy="482.4" r="13.5"/>
<rect x="943.8" y="538.0" width="24.5" height="24"/>
<path d="M940.0,473.7 L972.0,473.7 L958.4,445.5 L953.6,445.5Z"/>
<path d="M940.0,297.0 L972.0,297.0 L958.4,325.2 L953.6,325.2Z"/>
<circle cx="955.7" cy="385.5" r="13.5"/>
<rect x="1151.8" y="545.0" width="24.5" height="24"/>
<path d="M1148.0,443.8 L1180.0,443.8 L1166.3,415.6 L1161.7,415.6Z"/>
<path d="M1148.0,261.1 L1180.0,261.1 L1166.3,289.3 L1161.7,289.3Z"/>
<circle cx="1164.0" cy="301.4" r="13.5"/>
<rect x="1462.8" y="496.5" width="24.5" height="24"/>
<path d="M1459.0,350.0 L1491.0,350.0 L1477.3,321.8 L1472.7,321.8Z"/>
<path d="M1459.0,182.9 L1491.0,182.9 L1477.3,211.1 L1472.7,211.1Z"/>
<circle cx="1475.1" cy="212.6" r="13.5"/>
<rect x="227" y="1216.3" width="13" height="24"/>
<path d="M240,1229.3 L245.7,1229.3 L245.7,1233.8 L240,1236 Z"/>
</g>
<g stroke="#000" stroke-width="5" fill="none">
<path d="M229.5,42.5 L229.5,1242"/>
<path stroke-width="6.1" d="M227,1239 L1789.5,1239"/>
</g>
<g stroke="#000" stroke-width="5" stroke-linecap="round" fill="none">
<path d="M229.5,1119.6 L241.0,1119.6"/>
<path d="M229.5,1000.2 L251.4,1000.2"/>
<path d="M229.5,880.8 L241.0,880.8"/>
<path d="M229.5,761.4 L260.4,761.4"/>
<path d="M229.5,642.0 L250.4,642.0"/>
<path d="M229.5,522.6 L260.4,522.6"/>
<path d="M229.5,403.2 L250.4,403.2"/>
<path d="M229.5,283.8 L260.4,283.8"/>
<path d="M229.5,164.4 L250.6,164.4"/>
<path d="M229.5,45.0 L260.3,45.0"/>
<path d="M385.2,1239 L385.2,1217.3"/>
<path d="M541.0,1239 L541.0,1206.2"/>
<path d="M696.8,1239 L696.8,1217.3"/>
<path d="M852.5,1239 L852.5,1206.2"/>
<path d="M1008.2,1239 L1008.2,1217.3"/>
<path d="M1164.0,1239 L1164.0,1206.2"/>
<path d="M1319.8,1239 L1319.8,1217.3"/>
<path d="M1475.5,1239 L1475.5,1206.2"/>
<path d="M1631.2,1239 L1631.2,1217.3"/>
<path d="M1787.0,1239 L1787.0,1206.2"/>
</g>
<text class="t" font-size="61" transform="translate(136.72,64.80) scale(0.9363,1)">1.0</text>
<text class="t" font-size="61" transform="translate(135.50,303.00) scale(0.9514,1)">0.8</text>
<text class="t" font-size="61" transform="translate(135.53,540.20) scale(0.9390,1)">0.6</text>
<text class="t" font-size="61" transform="translate(135.52,777.60) scale(0.9398,1)">0.4</text>
<text class="t" font-size="61" transform="translate(135.47,1014.80) scale(0.9662,1)">0.2</text>
<text class="t" font-size="61" transform="translate(180.46,1254.20) scale(0.9123,1)">0</text>
<text class="t" font-size="61" transform="translate(211.41,1299.70) scale(0.8932,1)">0</text>
<text class="t" font-size="61" transform="translate(516.52,1301.30) scale(0.9573,1)">30</text>
<text class="t" font-size="61" transform="translate(821.91,1300.70) scale(0.9609,1)">60</text>
<text class="t" font-size="61" transform="translate(1144.14,1300.70) scale(0.9298,1)">90</text>
<text class="t" font-size="61" transform="translate(1436.72,1300.70) scale(0.9357,1)">120</text>
<text class="t" font-size="61" transform="translate(1742.72,1300.50) scale(0.9357,1)">150</text>
<text class="t" font-size="61" transform="translate(1296.84,839.80) scale(0.9550,1)">Ti/SnO<tspan font-size="43" dy="11.5">2</tspan><tspan dy="-11.5">-Sb</tspan></text>
<text class="t" font-size="61" transform="translate(1296.85,915.90) scale(0.9534,1)">Ti/SnO<tspan font-size="43" dy="11.5">2</tspan><tspan dy="-11.5">-Sb-Cu</tspan></text>
<text class="t" font-size="61" transform="translate(1296.85,989.60) scale(0.9506,1)">Ti/SnO<tspan font-size="43" dy="11.5">2</tspan><tspan dy="-11.5">-Sb-Bi</tspan></text>
<text class="t" font-size="61" transform="translate(1296.85,1064.90) scale(0.9515,1)">Ti/SnO<tspan font-size="43" dy="11.5">2</tspan><tspan dy="-11.5">-Sb-Ni</tspan></text>
<text font-family="Liberation Serif, Noto Serif CJK SC, serif" fill="#000"><tspan font-size="58" font-weight="500" x="924.5" y="1387">时间</tspan><tspan font-size="60" x="1040.7" y="1383.2">/h</tspan></text>
<text class="t" font-size="60" transform="translate(87,706) rotate(-90)"><tspan style="font-style:italic">C</tspan><tspan font-size="40" dy="11" style="font-style:italic">t</tspan><tspan dy="-11">/</tspan><tspan style="font-style:italic">C</tspan><tspan font-size="40" dy="11">0</tspan></text>
<g stroke="#000" stroke-width="4.4" stroke-linecap="round">
<path d="M1131.3,816.4 L1264.8,816.4"/>
<path d="M1131.3,891.9 L1264.8,891.9"/>
<path d="M1131.3,967.4 L1264.8,967.4"/>
<path d="M1131.3,1042.4 L1264.8,1042.4"/>
</g><g fill="#000">
<rect x="1186.2" y="805.1" width="23.7" height="23.5"/>
<path d="M1185.7,882.0 L1217.1,882.0 L1203.7,908.8 L1199.2,908.8Z"/>
<path d="M1183.9,979.8 L1215.1,979.8 L1201.8,953.0 L1197.2,953.0Z"/>
<circle cx="1200.0" cy="1043.0" r="13.25"/>
</g>
<rect x="1699" y="1352" width="151" height="40.7" rx="4" fill="#2b2b2b"/>
<text x="1709" y="1372" font-family="Liberation Sans, Noto Sans CJK SC, sans-serif" font-size="16" font-weight="500" fill="#eeeeee">陕西博泰达水处理</text>
<text x="1708" y="1386" font-family="DejaVu Sans Mono, monospace" font-size="14.6" fill="#26c0d2">www.botaida.com</text>
</svg></body></html>
